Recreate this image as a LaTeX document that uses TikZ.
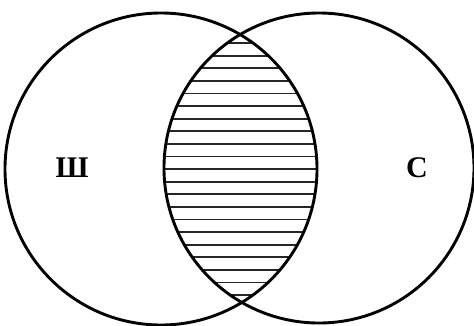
\documentclass[tikz,border=0pt]{standalone}
\usepackage{fontspec}
\setmainfont{Liberation Serif}

\begin{document}
\begin{tikzpicture}[x=1pt,y=-1pt]
            \useasboundingbox (0,0) rectangle (474,325);
            \coordinate (L) at (161,169);
            \coordinate (R) at (319,168);

            \begin{scope}
                \clip (L) circle[radius=156pt];
                \clip (R) circle[radius=155pt];
                \foreach \i in {0,...,20}
                    {\draw[line width=1.8pt, black!85] (150,{43+12.6*\i}) -- (330,{43+12.6*\i});}
            \end{scope}

            \draw[line width=2.9pt] (L) circle[radius=156pt];
            \draw[line width=2.9pt] (R) circle[radius=155pt];

            \node[font=\fontsize{30}{34}\selectfont\bfseries] (sh) at (72,168) {Ш};
            \node[font=\fontsize{30}{34}\selectfont\bfseries] (s) at (417,168) {С};
        \end{tikzpicture}
\end{document}
